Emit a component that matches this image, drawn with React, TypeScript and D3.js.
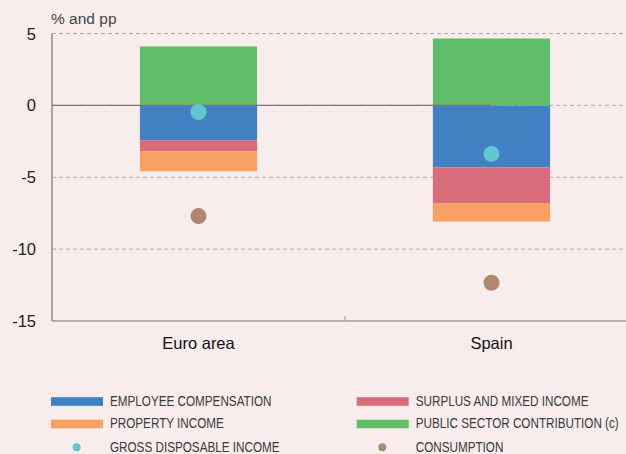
import React from "react";
import * as d3 from "d3";

const categories = ["Euro area", "Spain"];
const employeeCompensation = [-2.43, -4.31];
const surplusMixedIncome = [-0.76, -2.52];
const propertyIncome = [-1.39, -1.25];
const publicSectorContribution = [4.1, 4.65];
const grossDisposableIncome = [-0.46, -3.38];
const consumption = [-7.7, -12.34];
const yTicks = [5, 0, -5, -10, -15];

const W = 626, H = 454;
const M = { left: 52, top: 33.5, right: 638, bottom: 321 };
const BG = "#F8ECEC";
const C = {
  emp: "#4180C3",
  surplus: "#D86C7A",
  prop: "#F9A064",
  pub: "#60BE6A",
  gdi: "#62C6CE",
  cons: "#B08870",
};

export default function App() {
  const x = d3.scaleBand().domain(categories).range([M.left, M.right]).paddingInner(0).paddingOuter(0);
  const y = d3.scaleLinear().domain([-15, 5]).range([M.bottom, M.top]);
  const bw = x.bandwidth() * 0.4;

  const stacks = categories.map((c, i) => {
    const segs: { y0: number; y1: number; color: string }[] = [];
    let neg = 0;
    [[employeeCompensation[i], C.emp], [surplusMixedIncome[i], C.surplus], [propertyIncome[i], C.prop]].forEach(([v, col]) => {
      segs.push({ y0: neg, y1: neg + (v as number), color: col as string });
      neg += v as number;
    });
    segs.push({ y0: 0, y1: publicSectorContribution[i], color: C.pub });
    return segs;
  });

  const legend = [
    { label: "EMPLOYEE COMPENSATION", color: C.emp, type: "rect", col: 0, row: 0 },
    { label: "SURPLUS AND MIXED INCOME", color: C.surplus, type: "rect", col: 1, row: 0 },
    { label: "PROPERTY INCOME", color: C.prop, type: "rect", col: 0, row: 1 },
    { label: "PUBLIC SECTOR CONTRIBUTION (c)", color: C.pub, type: "rect", col: 1, row: 1 },
    { label: "GROSS DISPOSABLE INCOME", color: C.gdi, type: "dot", col: 0, row: 2 },
    { label: "CONSUMPTION", color: C.cons, type: "dot", col: 1, row: 2 },
  ];
  const legX = [51, 356.7];
  const legY = [401.5, 424, 447.3];

  const spainCenter = (x("Spain") ?? 0) + x.bandwidth() / 2;
  const font = "Liberation Sans, Arial, sans-serif";

  return (
    <svg width={W} height={H} style={{ position: "absolute", left: 0, top: 0, background: BG }}>
      <rect x={0} y={0} width={W} height={H} fill={BG} />
      <text x={51} y={23.5} fontFamily={font} fontSize={15.5} fill="#444">% and pp</text>
      {yTicks.map((t) => (
        <g key={t}>
          {t !== -15 && (
            <line x1={M.left} x2={W} y1={y(t)} y2={y(t)} stroke="#aaa" strokeDasharray="4,3" strokeWidth={1} />
          )}
          <text x={36} y={y(t) + 6} textAnchor="end" fontFamily={font} fontSize={16.5} fill="#222">{t}</text>
        </g>
      ))}
      {stacks.map((segs, i) => {
        const cx = x(categories[i]) ?? 0;
        const bx = cx + (x.bandwidth() - bw) / 2;
        return segs.map((s, j) => (
          <rect key={`${i}-${j}`} x={bx} width={bw} y={y(Math.max(s.y0, s.y1))} height={Math.abs(y(s.y0) - y(s.y1))} fill={s.color} />
        ));
      })}
      <line x1={M.left} x2={spainCenter} y1={y(0)} y2={y(0)} stroke="#777" strokeWidth={1.2} />
      {categories.map((c, i) => {
        const cx = (x(c) ?? 0) + x.bandwidth() / 2;
        return (
          <g key={c}>
            <circle cx={cx} cy={y(grossDisposableIncome[i])} r={8} fill={C.gdi} />
            <circle cx={cx} cy={y(consumption[i])} r={8} fill={C.cons} />
            <text x={cx} y={348.5} textAnchor="middle" fontFamily={font} fontSize={16.5} fill="#111">{c}</text>
          </g>
        );
      })}
      <line x1={M.left} x2={M.left} y1={M.top} y2={M.bottom} stroke="#777" strokeWidth={1.2} />
      <line x1={M.left} x2={W} y1={M.bottom} y2={M.bottom} stroke="#777" strokeWidth={1.2} />
      <line x1={M.left - 1} x2={M.left + 4} y1={M.bottom - 0.5} y2={M.bottom - 0.5} stroke="#aaa" strokeWidth={1} />
      <line x1={x("Spain") ?? 0} x2={x("Spain") ?? 0} y1={M.bottom} y2={M.bottom - 5} stroke="#999" strokeWidth={1} />
      {legend.map((l) => {
        const lx = legX[l.col];
        const ly = legY[l.row];
        return (
          <g key={l.label}>
            {l.type === "rect" ? (
              <rect x={lx} y={ly - 4.3} width={52} height={8.6} fill={l.color} />
            ) : (
              <circle cx={lx + 25.6} cy={ly} r={4} fill={l.color} />
            )}
            <text transform={`translate(${lx + 59},${ly + 4.3}) scale(0.78,1)`} fontFamily={font} fontSize={15} fill="#3a3a3a">{l.label}</text>
          </g>
        );
      })}
    </svg>
  );
}
